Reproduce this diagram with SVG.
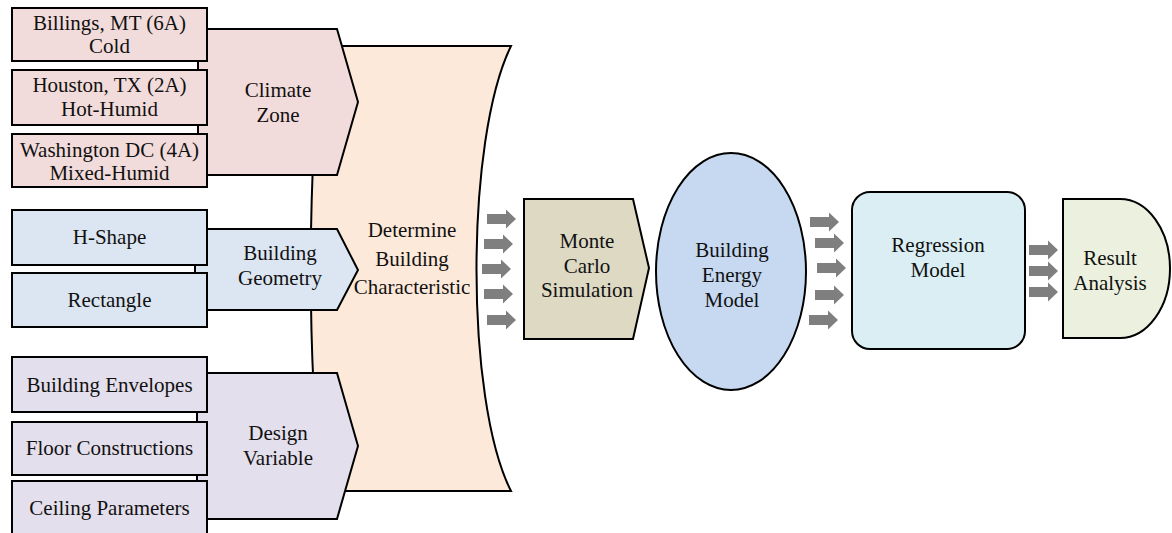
<svg xmlns="http://www.w3.org/2000/svg" xmlns:xlink="http://www.w3.org/1999/xlink" width="1172" height="533" viewBox="0 0 1172 533">
<style>
  text { font-family: "Liberation Serif", "Times New Roman", serif; font-size: 21px; fill: #111; text-anchor: middle; }
  .s { stroke: #000; stroke-width: 2; stroke-linejoin: miter; }
  .climate { fill: #F2DCDB; }
  .geom { fill: #DCE6F2; }
  .design { fill: #E4DFEC; }
  .dbc { fill: #FDE9D9; }
  .monte { fill: #DDD9C3; }
  .bem { fill: #C6D9F1; }
  .reg { fill: #DAEEF3; }
  .res { fill: #EBF1DE; }
  .arr { fill: #7F7F7F; }
</style>
<defs>
  <path id="arrow" d="M0,-5 H19 V-9.5 L29,0 L19,9.5 V5 H0 Z"/>
</defs>
<rect width="1172" height="533" fill="#fff"/>

<g id="determine-building-characteristic">
  <path class="s dbc" d="M322,46 L511,46 C465,140 465,400 511,491 L322,491 C307,360 307,180 322,46 Z"/>
  <text x="412" y="237">Determine</text>
  <text x="412" y="266">Building</text>
  <text x="412" y="294">Characteristic</text>
</g>

<g id="climate-zone">
  <polygon class="s climate" points="198,29 337,29 358,102 337,175 198,175"/>
  <text x="278" y="97">Climate</text>
  <text x="278" y="122">Zone</text>
</g>
<g id="billings">
  <rect class="s climate" x="12" y="8" width="195" height="53"/>
  <text x="109.5" y="30">Billings, MT (6A)</text>
  <text x="109.5" y="53">Cold</text>
</g>
<g id="houston">
  <rect class="s climate" x="12" y="70" width="195" height="55"/>
  <text x="109.5" y="92">Houston, TX (2A)</text>
  <text x="109.5" y="116">Hot-Humid</text>
</g>
<g id="washington">
  <rect class="s climate" x="12" y="134" width="195" height="53"/>
  <text x="109.5" y="157">Washington DC (4A)</text>
  <text x="109.5" y="180">Mixed-Humid</text>
</g>

<g id="building-geometry">
  <polygon class="s geom" points="195,229 337,229 358,270 337,310 195,310"/>
  <text x="280" y="260">Building</text>
  <text x="280" y="285">Geometry</text>
</g>
<g id="h-shape">
  <rect class="s geom" x="12" y="210" width="195" height="55"/>
  <text x="109.5" y="244">H-Shape</text>
</g>
<g id="rectangle">
  <rect class="s geom" x="12" y="273" width="195" height="54"/>
  <text x="109.5" y="307">Rectangle</text>
</g>

<g id="design-variable">
  <polygon class="s design" points="197,373 337,373 358,446 337,519 197,519"/>
  <text x="278" y="440">Design</text>
  <text x="278" y="465">Variable</text>
</g>
<g id="building-envelopes">
  <rect class="s design" x="12" y="357" width="195" height="55"/>
  <text x="109.5" y="392">Building Envelopes</text>
</g>
<g id="floor-constructions">
  <rect class="s design" x="12" y="422" width="195" height="53"/>
  <text x="109.5" y="455">Floor Constructions</text>
</g>
<g id="ceiling-parameters">
  <rect class="s design" x="12" y="481" width="195" height="62"/>
  <text x="109.5" y="515">Ceiling Parameters</text>
</g>

<g id="monte-carlo-simulation">
  <polygon class="s monte" points="524,199 633,199 649,268 633,339 524,339"/>
  <text x="587" y="248">Monte</text>
  <text x="587" y="273">Carlo</text>
  <text x="587" y="297">Simulation</text>
</g>

<g id="building-energy-model">
  <ellipse class="s bem" cx="731" cy="271.5" rx="75" ry="118.5"/>
  <text x="732" y="257">Building</text>
  <text x="732" y="282">Energy</text>
  <text x="732" y="307">Model</text>
</g>

<g id="regression-model">
  <rect class="s reg" x="852" y="192" width="173" height="157" rx="18" ry="18"/>
  <text x="938" y="252">Regression</text>
  <text x="938" y="277">Model</text>
</g>

<g id="result-analysis">
  <path class="s res" d="M1063,199 H1120 A50,69.5 0 0 1 1120,338 H1063 Z"/>
  <text x="1110" y="265">Result</text>
  <text x="1110" y="290">Analysis</text>
</g>

<g id="connectors" class="arr">
  <use xlink:href="#arrow" x="487" y="219"/>
  <use xlink:href="#arrow" x="484" y="244"/>
  <use xlink:href="#arrow" x="482" y="269"/>
  <use xlink:href="#arrow" x="484" y="294"/>
  <use xlink:href="#arrow" x="487" y="320"/>

  <use xlink:href="#arrow" x="810" y="222"/>
  <use xlink:href="#arrow" x="815" y="243"/>
  <use xlink:href="#arrow" x="817" y="268"/>
  <use xlink:href="#arrow" x="815" y="295"/>
  <use xlink:href="#arrow" x="809" y="320"/>

  <use xlink:href="#arrow" x="1029" y="250"/>
  <use xlink:href="#arrow" x="1029" y="271"/>
  <use xlink:href="#arrow" x="1029" y="292"/>
</g>
</svg>
